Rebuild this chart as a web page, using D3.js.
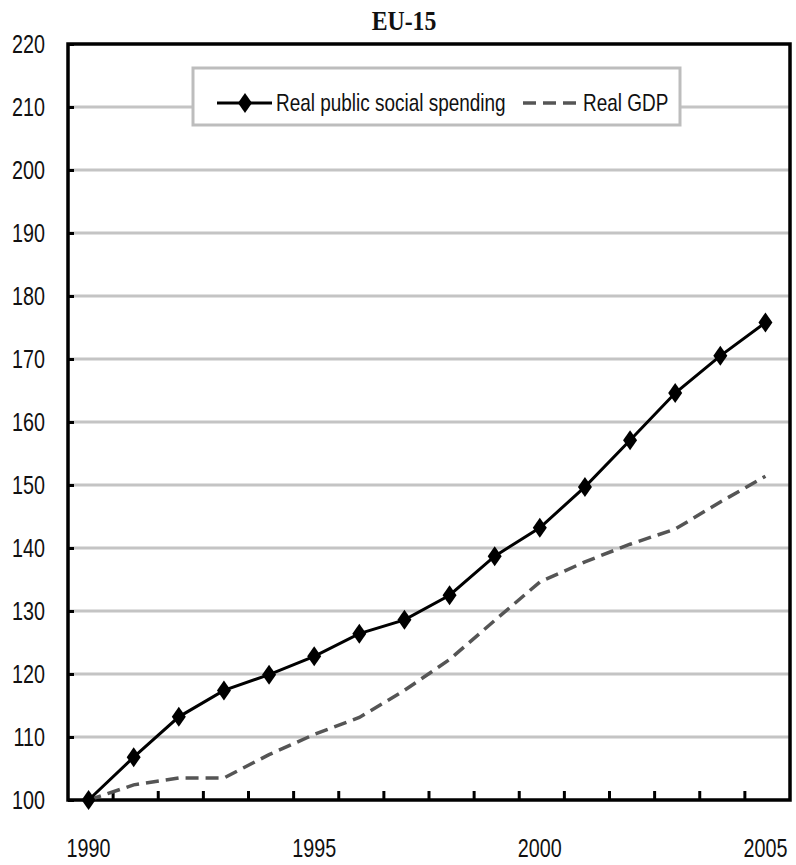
<!DOCTYPE html>
<html><head><meta charset="utf-8">
<script src="https://cdn.jsdelivr.net/npm/d3@7"></script>
<style>
body{margin:0;background:#fff;}
svg{display:block;}
.nar{font-family:"Liberation Sans","Arial",sans-serif;}
</style></head>
<body><svg id="c" width="796" height="865"></svg>
<script>
const years = [1990,1991,1992,1993,1994,1995,1996,1997,1998,1999,2000,2001,2002,2003,2004,2005];
const spending = [100,106.8,113.2,117.4,119.9,122.8,126.4,128.6,132.5,138.7,143.2,149.7,157.1,164.6,170.5,175.8];
const gdp = [100,102.4,103.5,103.5,107.2,110.4,113.1,117.4,122.3,128.5,134.6,137.8,140.6,143.0,147.3,151.4];
const yTicks = [100,110,120,130,140,150,160,170,180,190,200,210,220];
const xLabels = [1990,1995,2000,2005];
const seriesNames = ["Real public social spending","Real GDP"];
const title = "EU-15";

const svg = d3.select("#c");
const L=68, R=790, T=44, B=800;
const SX = 0.79;
const x = d3.scaleBand().domain(years).range([L,R]);
const xc = d => x(d) + x.bandwidth()/2 - 2;
const y = d3.scaleLinear().domain([100,220]).range([B,T]);

// title
svg.append("text").attr("transform","translate(404,30) scale(0.88,1)").attr("text-anchor","middle")
  .style("font-family","'Liberation Serif','Times New Roman',serif").style("font-weight","bold")
  .style("font-size","27px").attr("fill","#111").text(title);

// gridlines
svg.append("g").selectAll("line").data(yTicks.filter(t=>t>100 && t<220)).join("line")
  .attr("x1",L).attr("x2",R).attr("y1",d=>y(d)).attr("y2",d=>y(d))
  .attr("stroke","#c4c4c4").attr("stroke-width",3);

// y axis
const ya = svg.append("g").attr("transform",`translate(${L},0)`)
  .call(d3.axisRight(y).tickValues(yTicks).tickSize(6).tickFormat(""));
ya.select(".domain").remove();
ya.selectAll("line").attr("stroke","#000").attr("stroke-width",3);
svg.append("g").attr("class","nar").selectAll("text").data(yTicks).join("text")
  .attr("transform",d=>`translate(45,${y(d)+9}) scale(${SX},1)`).attr("text-anchor","end")
  .style("font-size","25px").attr("fill","#111").text(d=>d);

// x axis ticks between categories
const xa = svg.append("g").attr("transform",`translate(0,${B})`)
  .call(d3.axisTop(x).tickValues(years.slice(1)).tickSize(9).tickFormat("").offset(0));
xa.select(".domain").remove();
xa.selectAll(".tick").attr("transform",d=>`translate(${x(d)},0)`);
xa.selectAll("line").attr("stroke","#000").attr("stroke-width",3);
svg.append("g").attr("class","nar").selectAll("text").data(xLabels).join("text")
  .attr("transform",d=>`translate(${xc(d)},857) scale(${SX},1)`).attr("text-anchor","middle")
  .style("font-size","25px").attr("fill","#111").text(d=>d);

// frame
svg.append("path").attr("d",`M${L},${B}V${T}H${R}V${B}Z`).attr("fill","none")
  .attr("stroke","#000").attr("stroke-width",3.5);

// lines
const line = d3.line().x((d,i)=>xc(years[i])).y(d=>y(d));
svg.append("path").datum(gdp).attr("d",line).attr("fill","none")
  .attr("stroke","#555").attr("stroke-width",3.5).attr("stroke-dasharray","13,7");
svg.append("path").datum(spending).attr("d",line).attr("fill","none")
  .attr("stroke","#000").attr("stroke-width",3);
const diamond = "M0,-10L7,0L0,10L-7,0Z";
svg.append("g").selectAll("path").data(spending).join("path")
  .attr("transform",(d,i)=>`translate(${xc(years[i])},${y(d)})`).attr("d",diamond).attr("fill","#000");

// legend
const lg = svg.append("g");
lg.append("rect").attr("x",193).attr("y",68).attr("width",487).attr("height",57)
  .attr("fill","#fff").attr("stroke","#bdbdbd").attr("stroke-width",3);
lg.append("line").attr("x1",217).attr("x2",272).attr("y1",103).attr("y2",103).attr("stroke","#000").attr("stroke-width",3);
lg.append("path").attr("transform","translate(245,103)").attr("d",diamond).attr("fill","#000");
lg.append("text").attr("class","nar").attr("transform",`translate(276,111) scale(${SX},1)`)
  .style("font-size","24px").attr("fill","#111").text(seriesNames[0]);
lg.append("line").attr("x1",523).attr("x2",578).attr("y1",103).attr("y2",103).attr("stroke","#555").attr("stroke-width",3.5).attr("stroke-dasharray","13,7");
lg.append("text").attr("class","nar").attr("transform",`translate(583,111) scale(${SX},1)`)
  .style("font-size","24px").attr("fill","#111").text(seriesNames[1]);
</script></body></html>
